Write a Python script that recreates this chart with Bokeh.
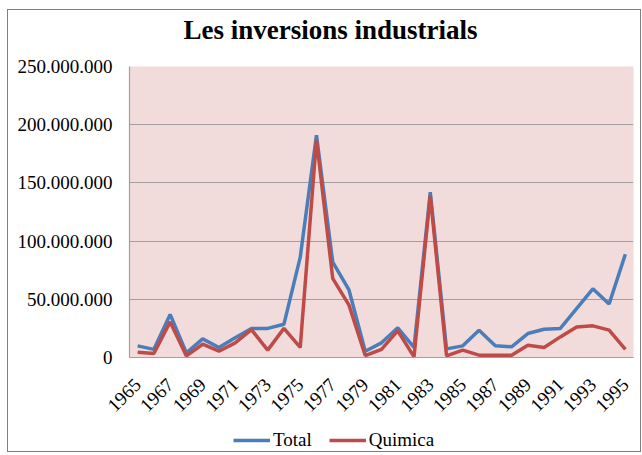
import math
from bokeh.plotting import figure
from bokeh.layouts import column
from bokeh.models import ColumnDataSource, FixedTicker, Legend, LegendItem, Title
from bokeh.embed import file_html
from bokeh.resources import INLINE

years = list(range(1965, 1996))
total = [10.0, 7.0, 37.0, 4.0, 16.0, 8.6, 17.0, 25.0, 25.0, 28.6, 86.0, 191.0, 82.0, 58.0, 5.4, 12.6,
         25.5, 8.6, 142.0, 7.4, 10.0, 23.5, 10.0, 9.2, 20.6, 24.3, 25.0, 42.0, 59.0, 46.0, 88.7]
quimica = [4.6, 3.4, 30.6, 1.4, 11.4, 5.4, 12.6, 24.0, 6.3, 25.0, 8.6, 187.0, 68.0, 45.0, 1.7, 6.9,
           23.0, 0.6, 139.0, 1.4, 6.3, 2.0, 2.0, 2.0, 10.6, 8.6, 17.7, 26.3, 27.2, 23.5, 6.9]
total = [v * 1e6 for v in total]
quimica = [v * 1e6 for v in quimica]

y_ticks = [0, 50000000, 100000000, 150000000, 200000000, 250000000]
y_tick_labels = ["0", "50.000.000", "100.000.000", "150.000.000", "200.000.000", "250.000.000"]
x_ticks = list(range(1965, 1996, 2))

FONT = "Liberation Serif"
BLUE = "#4A7EBB"
RED = "#BE4B48"

src = ColumnDataSource(dict(year=years, total=total, quimica=quimica))

# main chart
p = figure(width=632, height=413, output_backend="svg", toolbar_location=None,
           x_range=(1964.5, 1995.5), y_range=(0, 250000000),
           min_border_left=121, min_border_right=7, min_border_top=56, min_border_bottom=66)
p.background_fill_color = "#F2DCDB"
p.border_fill_color = "white"
p.outline_line_color = None

# empty spacer between the frame and the title
p.add_layout(Title(text=" ", standoff=0, text_font=FONT, text_font_size="18px"), "above")
t = Title(text="Les inversions industrials", align="left", offset=54, standoff=0,
          text_font=FONT, text_font_size="27px", text_font_style="bold", text_color="black")
p.add_layout(t, "above")

p.line("year", "total", source=src, line_color=BLUE, line_width=3.5)
p.line("year", "quimica", source=src, line_color=RED, line_width=3.5)

p.xgrid.grid_line_color = None
p.ygrid.grid_line_color = "#A0A0A0"
p.ygrid.grid_line_width = 1.2

p.yaxis.ticker = FixedTicker(ticks=y_ticks)
p.yaxis.major_label_overrides = {t_: l for t_, l in zip(y_ticks, y_tick_labels)}
p.xaxis.ticker = FixedTicker(ticks=x_ticks)
p.xaxis.major_label_orientation = math.pi / 4

for ax in (p.xaxis[0], p.yaxis[0]):
    ax.axis_line_color = "#A0A0A0"
    ax.axis_line_width = 1.2
    ax.major_tick_line_color = None
    ax.minor_tick_line_color = None
    ax.major_label_text_font = FONT
    ax.major_label_text_font_size = "19px"
    ax.major_label_text_color = "black"
p.yaxis.major_label_standoff = 11
p.xaxis.major_label_standoff = 18

# legend strip below the chart (its lines lie outside its view; only the legend shows)
p2 = figure(width=632, height=28, output_backend="svg", toolbar_location=None,
            x_range=(0, 1), y_range=(0, 1), x_axis_type=None, y_axis_type=None,
            min_border=0)
p2.outline_line_color = None
p2.background_fill_color = "white"
p2.border_fill_color = "white"
l1 = p2.line("year", "total", source=src, line_color=BLUE, line_width=3.5)
l2 = p2.line("year", "quimica", source=src, line_color=RED, line_width=3.5)

legend = Legend(items=[LegendItem(label="Total", renderers=[l1]),
                       LegendItem(label="Quimica", renderers=[l2])],
                location=(104, 0), orientation="horizontal",
                border_line_color=None, background_fill_alpha=0,
                padding=0, margin=0, spacing=17, label_standoff=3,
                glyph_width=37, glyph_height=18, label_height=18,
                label_text_font=FONT, label_text_font_size="19px",
                label_text_color="black")
p2.add_layout(legend, "center")

lay = column(p, p2, spacing=0)
lay.styles = {"border": "1px solid #808080", "margin": "9px 0 0 7px"}

open("out.html", "w").write(file_html(lay, INLINE))
